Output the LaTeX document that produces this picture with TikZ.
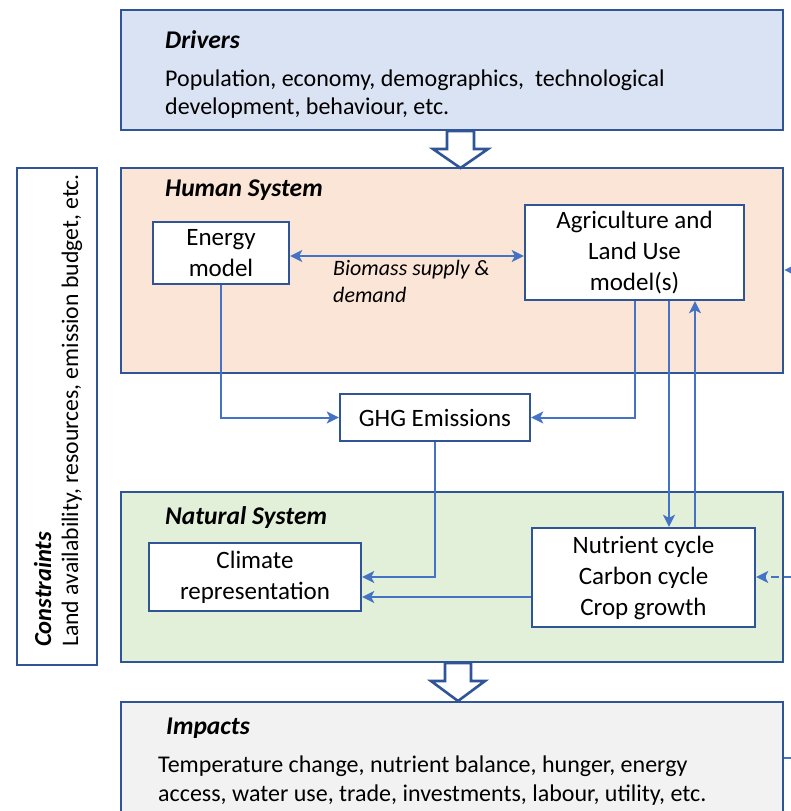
\documentclass[tikz,border=0pt]{standalone}
\usepackage{fontspec}
\setmainfont{Carlito}
\usetikzlibrary{arrows.meta}
\definecolor{bord}{HTML}{2F5597}
\definecolor{conn}{HTML}{4472C4}
\definecolor{drvfill}{HTML}{DAE3F3}
\definecolor{humfill}{HTML}{FBE5D6}
\definecolor{natfill}{HTML}{E2F0D9}
\definecolor{impfill}{HTML}{F2F2F2}
\begin{document}
\begin{tikzpicture}[x=1pt,y=-1pt,
  bigbox/.style={draw=bord,line width=2.6pt,inner sep=0pt,minimum width=662pt},
  model/.style={draw=bord,line width=2.4pt,fill=white,inner sep=0pt,align=center,
    font=\fontsize{25}{31}\selectfont},
  title/.style={anchor=base west,inner sep=0pt,font=\fontsize{25.5}{28}\selectfont\bfseries\itshape},
  body/.style={anchor=base west,inner sep=0pt,font=\fontsize{24}{28}\selectfont},
  link/.style={draw=conn,line width=2pt,-{Stealth[length=12pt,width=12pt,inset=3pt]}},
  hollow/.style={draw=bord,line width=2.6pt,fill=white,line join=miter}]
\useasboundingbox (0,0) rectangle (790,811);
% big boxes
\node[bigbox,fill=drvfill,minimum height=120pt] (drivers) at (452,70) {};
\node[bigbox,fill=humfill,minimum height=205pt] (human) at (452,270.5) {};
\node[bigbox,fill=natfill,minimum height=170pt] (natural) at (452,577) {};
\node[bigbox,fill=impfill,minimum height=140pt] (impacts) at (452,772) {};
\node[bigbox,fill=white,minimum width=80pt,minimum height=497pt] (constr) at (57,416.5) {};
% texts of big boxes
\node[title] (tdrivers) at (165,48) {Drivers};
\node[body] (bdrivers1) at (165,86) {Population, economy, demographics, \ technological};
\node[body] (bdrivers2) at (165,114) {development, behaviour, etc.};
\node[title] (thuman) at (165,196) {Human System};
\node[title] (tnatural) at (165,524) {Natural System};
\node[title] (timpacts) at (166,734) {Impacts};
\node[body] (bimpacts1) at (158,772) {Temperature change, nutrient balance, hunger, energy};
\node[body] (bimpacts2) at (158,801) {access, water use, trade, investments, labour, utility, etc.};
\node[title,rotate=90,font=\fontsize{24.5}{28}\selectfont\bfseries\itshape] (tconstr) at (51,647) {Constraints};
\node[body,rotate=90,font=\fontsize{23.7}{28}\selectfont] (bconstr) at (78,647) {Land availability, resources, emission budget, etc.};
% hollow arrows
\draw[hollow] (447,131) -- (474,131) -- (474,149) -- (488,149) -- (460.5,168) -- (433,149) -- (447,149) -- cycle;
\draw[hollow] (445,663) -- (471,663) -- (471,681) -- (485,681) -- (458,701) -- (431,681) -- (445,681) -- cycle;
% model nodes
\node[model,minimum width=136pt,minimum height=62pt] (energy) at (221,253) {Energy\\model};
\node[model,minimum width=219pt,minimum height=95pt] (agri) at (634.5,252.5) {Agriculture and\\Land Use\\model(s)};
\node[model,minimum width=190pt,minimum height=47pt] (ghg) at (435,417.5) {GHG Emissions};
\node[model,minimum width=212pt,minimum height=68pt] (climate) at (255,577) {Climate\\representation};
\node[model,minimum width=223pt,minimum height=99pt] (nut) at (643.5,577.5) {Nutrient cycle\\Carbon cycle\\Crop growth};
\node[anchor=north west,inner sep=0pt,align=left,font=\fontsize{22}{27}\selectfont\itshape] (bio) at (333,260) {Biomass supply \&\\demand};
% connectors
\draw[link,{Stealth[length=12pt,width=12pt,inset=3pt]}-{Stealth[length=12pt,width=12pt,inset=3pt]}] ([yshift=-3pt]energy.east) -- ([yshift=-3pt]energy.east -| agri.west);
\draw[link] (energy.south) |- (ghg.west);
\draw[link] (agri.south) |- (ghg.east);
\draw[link] (agri.south -| 669,0) -- (nut.north -| 669,0);
\draw[link] (nut.north -| 695,0) -- (agri.south -| 695,0);
\draw[link] (ghg.south) |- (climate.east);
\draw[link] (nut.west |- 0,597) -- (climate.east |- 0,597);
\draw[link,dashed,dash pattern=on 8pt off 5pt] (805,577) -- (nut.east |- 0,577);
\coordinate (rin) at (805,270);
\draw[link] (rin) -- (human.east |- rin);
\coordinate (rout) at (805,758);
\draw[draw=conn,line width=2pt] (impacts.east |- rout) -- (rout);
\end{tikzpicture}
\end{document}
